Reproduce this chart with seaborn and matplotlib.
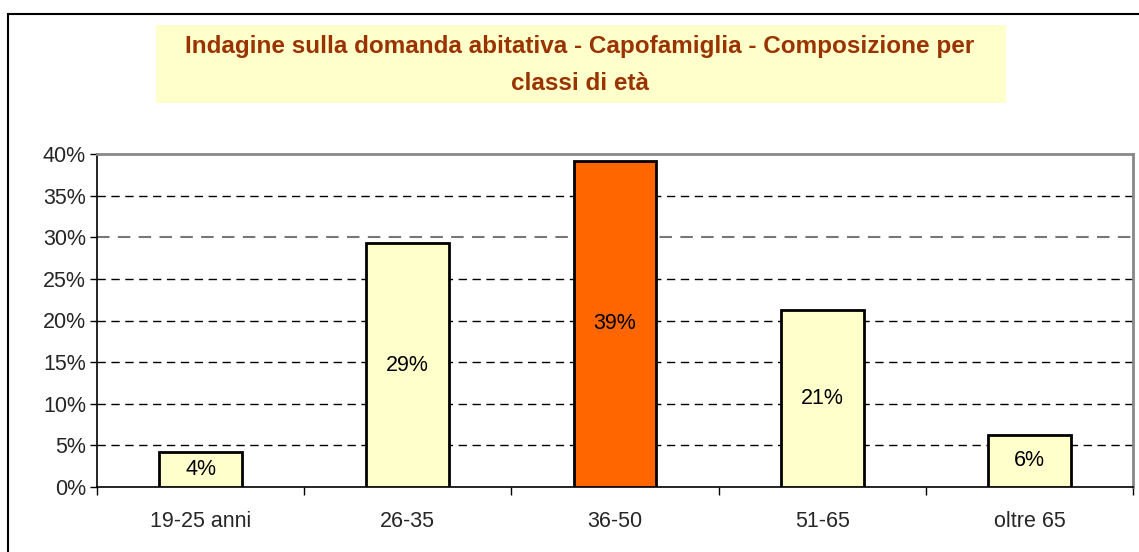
import matplotlib
matplotlib.use("Agg")
import matplotlib.pyplot as plt
import seaborn as sns
import numpy as np
from matplotlib.patches import Rectangle
from matplotlib.ticker import FixedLocator, PercentFormatter

categories = ["19-25 anni", "26-35", "36-50", "51-65", "oltre 65"]
values = [4.2, 29.3, 39.2, 21.3, 6.3]
labels = ["4%", "29%", "39%", "21%", "6%"]
bar_colors = ["#FFFFCC", "#FFFFCC", "#FF6600", "#FFFFCC", "#FFFFCC"]
title = "Indagine sulla domanda abitativa - Capofamiglia - Composizione per\nclassi di età"

sns.set_theme(style="white")
plt.rcParams["font.family"] = ["Liberation Sans", "DejaVu Sans"]

W, H = 1139, 552
fig = plt.figure(figsize=(W / 100, H / 100), dpi=100)
fig.patch.set_facecolor("white")

# outer frame (left and top edges visible)
fig.patches.append(Rectangle((8 / W, -0.2), 1.2, 1.2 - 14 / H, transform=fig.transFigure,
                             fill=False, edgecolor="black", linewidth=1.5, zorder=0))

ax = fig.add_axes([97 / W, 1 - 487 / H, 1036 / W, 333 / H])

sns.barplot(x=categories, y=values, hue=categories, palette=bar_colors, width=0.4,
            edgecolor="black", linewidth=2, legend=False, ax=ax, zorder=3, saturation=1)

ax.set_xlim(-0.5, len(categories) - 0.5)
ax.set_ylim(0, 40)
ax.yaxis.set_major_locator(FixedLocator(np.arange(0, 41, 5)))
ax.yaxis.set_major_formatter(PercentFormatter(decimals=0))
ax.set_xlabel("")
ax.set_ylabel("")

for y in range(5, 40, 5):
    ax.axhline(y, color="black" if y != 30 else "#777777", linestyle=(0, (6, 4)),
               linewidth=1 if y != 30 else 1.5, zorder=1)

for sp in ["top", "right"]:
    ax.spines[sp].set_color("#888888")
    ax.spines[sp].set_linewidth(2)
for sp in ["left", "bottom"]:
    ax.spines[sp].set_color("black")
    ax.spines[sp].set_linewidth(1.2)

ax.tick_params(axis="y", which="major", direction="out", length=5, width=1, color="black",
               labelsize=15.5, pad=3, left=True)
ax.set_xticks(range(len(categories)))
ax.set_xticklabels(categories)
ax.tick_params(axis="x", which="major", length=0, labelsize=15.5, pad=17)
ax.xaxis.set_minor_locator(FixedLocator(np.arange(-0.5, len(categories), 1)))
ax.tick_params(axis="x", which="minor", direction="out", length=6, width=1, color="black", bottom=True)

for i, (v, lab) in enumerate(zip(values, labels)):
    ax.text(i, v / 2, lab, ha="center", va="center", fontsize=15.5, color="black", zorder=5)

# title box
fig.patches.append(Rectangle((156 / W, 1 - 103 / H), (1006 - 156) / W, (103 - 25) / H,
                             transform=fig.transFigure, facecolor="#FFFFCC", edgecolor="none", zorder=1))
fig.text(580 / W, 1 - 65 / H, title, ha="center", va="center", fontsize=17.5, fontweight="bold",
         color="#993300", linespacing=1.75, zorder=2)

fig.savefig("out.png", dpi=100)
